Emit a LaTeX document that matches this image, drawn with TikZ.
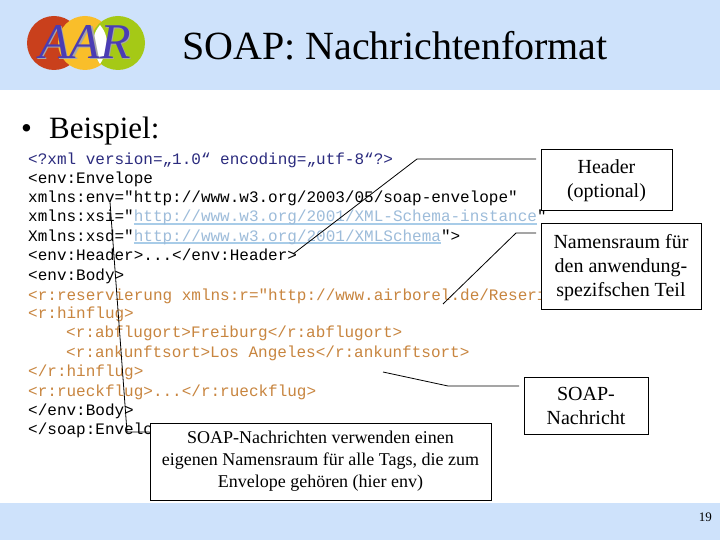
\documentclass[tikz,border=0pt]{standalone}
\usepackage{fontspec}
\setmainfont{Liberation Serif}
\setmonofont{Liberation Mono}
\definecolor{band}{HTML}{CEE2FB}
\definecolor{navycode}{HTML}{2B2B7E}
\definecolor{orangecode}{HTML}{C8853F}
\definecolor{linktxt}{HTML}{9DBCDA}
\definecolor{linkul}{HTML}{A8CCE8}
\definecolor{logored}{HTML}{C9401C}
\definecolor{logoyellow}{HTML}{F9BE2A}
\definecolor{logogreen}{HTML}{A5C916}
\definecolor{logotext}{HTML}{4A3CB4}
\newcommand\lnk[1]{\setbox0\hbox{#1}\rlap{\color{linkul}\rule[-3pt]{\wd0}{1.7pt}}{\color{linktxt}\box0}}
\newcommand\topfix[1]{\rule{0pt}{#1pt}}
\tikzset{
  code/.style={anchor=base west,inner sep=0pt,font=\ttfamily\fontsize{16}{16}\selectfont},
  callout/.style={draw=black,line width=1pt,fill=white,align=center,inner sep=0pt,text=black},
  bigcall/.style={callout,font=\fontsize{20}{24}\selectfont},
  smallcall/.style={callout,font=\fontsize{18}{22}\selectfont},
  leader/.style={draw=black,line width=0.8pt},
}
\begin{document}
\begin{tikzpicture}[x=1pt,y=-1pt]
\useasboundingbox (0,0) rectangle (720,540);
\fill[white] (0,0) rectangle (720,540);
\fill[band] (0,0) rectangle (720,90);
\fill[band] (0,503) rectangle (720,540);
% logo
\fill[logored] (54,43) circle (27);
\fill[logoyellow] (85,43) circle (27);
\fill[logogreen] (118,43) circle (27);
\fill[white] (100,25) .. controls (106,32) and (108,40) .. (106,48) .. controls (105,54) and (103,60) .. (100,64) .. controls (97,60) and (95,54) .. (94,48) .. controls (92,40) and (94,32) .. (100,25) -- cycle;
\node[anchor=base,inner sep=0pt,text=black!35,font=\itshape\fontsize{50}{50}\selectfont] (logoshadow) at (86.5,59.5) {AAR};
\node[anchor=base,inner sep=0pt,text=logotext,font=\itshape\fontsize{50}{50}\selectfont] (logo) at (85,58.5) {AAR};
% title
\node[anchor=base west,inner sep=0pt,font=\fontsize{40}{40}\selectfont] (title) at (182,60) {SOAP: Nachrichtenformat};
\node[anchor=base west,inner sep=0pt,font=\fontsize{31}{31}\selectfont] (bullet) at (21,139) {•};
\node[anchor=base west,inner sep=0pt,font=\fontsize{31}{31}\selectfont] (beispiel) at (49,139) {Beispiel:};
% code
\node[code,text=navycode] (c1) at (28,165) {<?xml version=„1.0“ encoding=„utf-8“?>};
\node[code] (c2) at (28,184) {<env:Envelope};
\node[code] (c3) at (28,203) {xmlns:env="http://www.w3.org/2003/05/soap-envelope"};
\node[code] (c4) at (28,222) {xmlns:xsi="\lnk{http://www.w3.org/2001/XML-Schema-instance}"};
\node[code] (c5) at (28,241) {Xmlns:xsd="\lnk{http://www.w3.org/2001/XMLSchema}">};
\node[code] (c6) at (28,260) {<env:Header>...</env:Header>};
\node[code] (c7) at (28,280) {<env:Body>};
\node[code,text=orangecode] (c8) at (28,300) {<r:reservierung xmlns:r="http://www.airborel.de/Reseri};
\node[code,text=orangecode] (c9) at (28,318) {<r:hinflug>};
\node[code,text=orangecode] (c10) at (66,337) {<r:abflugort>Freiburg</r:abflugort>};
\node[code,text=orangecode] (c11) at (66,357) {<r:ankunftsort>Los Angeles</r:ankunftsort>};
\node[code,text=orangecode] (c12) at (28,376) {</r:hinflug>};
\node[code,text=orangecode] (c13) at (28,396) {<r:rueckflug>...</r:rueckflug>};
\node[code] (c14) at (28,415) {</env:Body>};
\node[code] (c15) at (28,434) {</soap:Envelo};
% callouts
\node[bigcall,minimum width=131,minimum height=61] (hdr) at (606.5,180.5) {\topfix{15}Header\\(optional)};
\node[bigcall,minimum width=160,minimum height=85] (ns) at (621,266.5) {\topfix{17}Namensraum für\\den anwendung-\\spezifschen Teil};
\node[bigcall,minimum width=124,minimum height=57] (msg) at (586,405.5) {\topfix{15}SOAP-\\Nachricht};
\node[smallcall,minimum width=341,minimum height=77] (env) at (320.5,461.5) {SOAP-Nachrichten verwenden einen\\eigenen Namensraum für alle Tags, die zum\\Envelope gehören (hier env)};
% leaders
\coordinate (hdrstart) at (293,254);
\coordinate (hdrbend) at (417,159);
\coordinate (hdrend) at (536,159);
\coordinate (nsstart) at (443,304);
\coordinate (nsbend) at (516,233);
\coordinate (nsend) at (536,233);
\coordinate (msgstart) at (383,372);
\coordinate (msgbend) at (448,386);
\coordinate (msgend) at (519,386);
\coordinate (envstart) at (110,202);
\coordinate (envbend) at (127,432);
\draw[leader] (hdrstart) -- (hdrbend) -- (hdrend);
\draw[leader] (nsstart) -- (nsbend) -- (nsend);
\draw[leader] (msgstart) -- (msgbend) -- (msgend);
\draw[leader] (envstart) -- (envbend) -- (envbend -| env.west);
% page number
\node[anchor=base east,inner sep=0pt,font=\fontsize{13}{13}\selectfont] (page) at (712,521) {19};
\end{tikzpicture}
\end{document}
